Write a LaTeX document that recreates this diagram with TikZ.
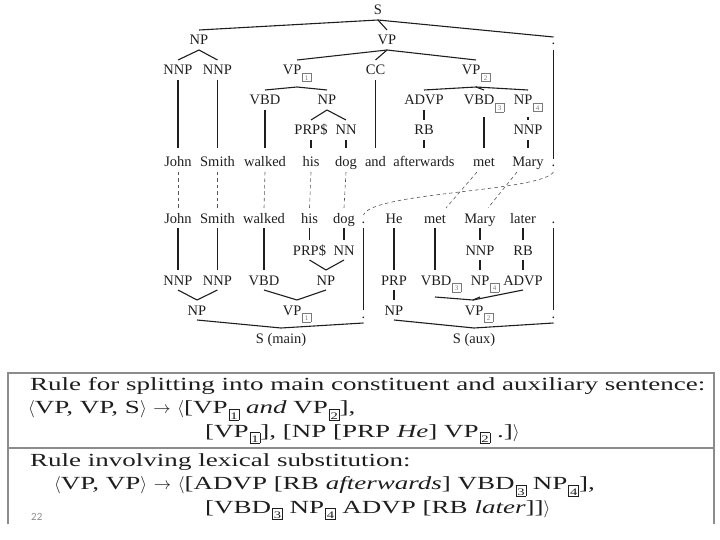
\documentclass[tikz,border=0pt]{standalone}
\usepackage{fontspec}
\setmainfont{Liberation Serif}
\newfontfamily\treefont{Liberation Serif}
\newfontfamily\rulefont[FakeStretch=1.46]{Liberation Serif}
\newfontfamily\numfont{Carlito}
\definecolor{ink}{HTML}{1E1E1E}
\definecolor{boxgray}{HTML}{7A7A7A}
\definecolor{framegray}{HTML}{8C8C8C}
\newcommand\bxn[1]{\kern0.8pt\raisebox{-5.5pt}{\setlength\fboxsep{1pt}\setlength\fboxrule{0.5pt}\fcolorbox{boxgray}{white}{\makebox[6pt]{\rule{0pt}{6pt}\fontsize{7}{7}\selectfont\color{boxgray}#1}}}}
\newcommand\rbx[1]{\kern1pt\raisebox{-5.5pt}{\setlength\fboxsep{0.6pt}\setlength\fboxrule{0.7pt}\fcolorbox{ink}{white}{\makebox[8pt]{\rule{0pt}{9pt}\fontsize{10}{10}\selectfont #1}}}}
\begin{document}
\begin{tikzpicture}[x=1pt,y=-1pt,
  lab/.style={font=\treefont\fontsize{14.5}{15}\selectfont, text=ink, anchor=base,
    inner sep=0pt, outer xsep=0pt, outer ysep=5pt, text height=10pt, text depth=0pt},
  bxd/.style={text depth=7pt},
  wtop/.style={text height=14pt},
  dotn/.style={text height=3pt},
  ln/.style={draw=ink, line width=1.1pt},
  dl/.style={draw=ink!75, line width=0.6pt, dash pattern=on 3.5pt off 3pt},
  rl/.style={font=\rulefont\fontsize{18.5}{20}\selectfont, text=ink, anchor=base west, inner sep=0pt},
  frame/.style={draw=framegray, line width=1.2pt}]
\useasboundingbox (0,0) rectangle (720,540);
% ---------- upper tree ----------
\node[lab] (S0) at (378,15) {S};
\node[lab] (np2) at (199,45) {NP};
\node[lab] (vp2) at (387,45) {VP};
\node[lab,dotn] (dt2) at (553.5,45) {.};
\node[lab] (nnpa3) at (178,75) {NNP};
\node[lab] (nnpb3) at (217.5,75) {NNP};
\node[lab,bxd] (vpa3) at (297,75) {VP\bxn{1}};
\node[lab] (cc3) at (375.5,75) {CC};
\node[lab,bxd] (vpb3) at (476,75) {VP\bxn{2}};
\node[lab] (vbd4) at (265,105) {VBD};
\node[lab] (np4) at (327,105) {NP};
\node[lab] (advp4) at (424,105) {ADVP};
\node[lab,bxd] (vbdc4) at (484,105) {VBD\bxn{3}};
\node[lab,bxd] (npd4) at (528,105) {NP\bxn{4}};
\node[lab] (prp5) at (311,135) {PRP\$};
\node[lab] (nn5) at (346,135) {NN};
\node[lab] (rb5) at (424,135) {RB};
\node[lab] (nnp5) at (528,135) {NNP};
\node[lab,wtop] (w6john) at (178,167) {John};
\node[lab,wtop] (w6smith) at (217.5,167) {Smith};
\node[lab,wtop] (w6walked) at (265,167) {walked};
\node[lab,wtop] (w6his) at (311,167) {his};
\node[lab,wtop] (w6dog) at (346,167) {dog};
\node[lab,wtop] (w6and) at (375.5,167) {and};
\node[lab,wtop] (w6after) at (424,167) {afterwards};
\node[lab,wtop] (w6met) at (484,167) {met};
\node[lab,wtop] (w6mary) at (528,167) {Mary};
\node[lab,dotn] (dt6) at (553.5,167) {.};
% ---------- lower tree ----------
\node[lab] (w7john) at (178,223) {John};
\node[lab] (w7smith) at (217.5,223) {Smith};
\node[lab] (w7walked) at (264,223) {walked};
\node[lab] (w7his) at (309.5,223) {his};
\node[lab] (w7dog) at (344,223) {dog};
\node[lab,dotn] (dt7a) at (363.5,223) {.};
\node[lab] (w7he) at (394,223) {He};
\node[lab] (w7met) at (435,223) {met};
\node[lab] (w7mary) at (480,223) {Mary};
\node[lab] (w7later) at (523,223) {later};
\node[lab,dotn] (dt7b) at (553.5,223) {.};
\node[lab] (prp8) at (309.5,255) {PRP\$};
\node[lab] (nn8) at (344,255) {NN};
\node[lab] (nnp8) at (480,255) {NNP};
\node[lab] (rb8) at (523,255) {RB};
\node[lab] (nnpa9) at (178,285) {NNP};
\node[lab] (nnpb9) at (217.5,285) {NNP};
\node[lab] (vbd9) at (264,285) {VBD};
\node[lab] (np9) at (326,285) {NP};
\node[lab] (prp9) at (394,285) {PRP};
\node[lab,bxd] (vbdc9) at (441,285) {VBD\bxn{3}};
\node[lab,bxd] (npd9) at (485,285) {NP\bxn{4}};
\node[lab] (advp9) at (523,285) {ADVP};
\node[lab] (np10) at (197,315) {NP};
\node[lab,bxd] (vpa10) at (297,315) {VP\bxn{1}};
\node[lab,dotn] (dt10a) at (363.5,318) {.};
\node[lab] (npb10) at (394,315) {NP};
\node[lab,bxd] (vpb10) at (479,315) {VP\bxn{2}};
\node[lab,dotn] (dt10b) at (553.5,318) {.};
\node[lab] (smain) at (281,343) {S (main)};
\node[lab] (saux) at (474,343) {S (aux)};
% ---------- upper connectors ----------
\draw[ln] (np2.north) -- (S0.south) -- (dt2.north);
\draw[ln] (S0.south) -- (vp2.north);
\draw[ln] (nnpa3.north) -- (np2.south) -- (nnpb3.north);
\draw[ln] (vpa3.north) -- (vp2.south) -- (vpb3.north);
\draw[ln] (vp2.south) -- (cc3.north);
\draw[ln] (vbd4.north) -- (vpa3.south) -- (np4.north);
\draw[ln] (advp4.north) -- (vpb3.south) -- (npd4.north);
\draw[ln] (vpb3.south) -- (vbdc4.north);
\draw[ln] (prp5.north) -- (np4.south) -- (nn5.north);
\draw[ln] (advp4.south) -- (rb5.north);
\draw[ln] (npd4.south) -- (nnp5.north);
\draw[ln] (nnpa3.south) -- (w6john.north);
\draw[ln] (nnpb3.south) -- (w6smith.north);
\draw[ln] (vbd4.south) -- (w6walked.north);
\draw[ln] (prp5.south) -- (w6his.north);
\draw[ln] (nn5.south) -- (w6dog.north);
\draw[ln] (cc3.south) -- (w6and.north);
\draw[ln] (rb5.south) -- (w6after.north);
\draw[ln] (vbdc4.south) -- (w6met.north);
\draw[ln] (nnp5.south) -- (w6mary.north);
\draw[ln] (dt2.south) -- (dt6.north);
% ---------- alignment (dashed) ----------
\draw[dl] (w6john.south) -- (w7john.north);
\draw[dl] (w6smith.south) -- (w7smith.north);
\draw[dl] (w6walked.south) -- (w7walked.north);
\draw[dl] (w6his.south) -- (w7his.north);
\draw[dl] (w6dog.south) -- (w7dog.north);
\draw[dl] ([xshift=-7pt]w6met.south) -- ([xshift=11pt]w7met.north);
\draw[dl] ([xshift=-11pt]w6mary.south) -- ([xshift=8pt]w7mary.north);
\draw[dl] (dt6.south) .. controls (540,192) and (372,192) .. (dt7a.north);
% ---------- lower connectors ----------
\draw[ln] (w7john.south) -- (nnpa9.north);
\draw[ln] (w7smith.south) -- (nnpb9.north);
\draw[ln] (w7walked.south) -- (vbd9.north);
\draw[ln] (w7his.south) -- (prp8.north);
\draw[ln] (w7dog.south) -- (nn8.north);
\draw[ln] (dt7a.south) -- (dt10a.north);
\draw[ln] (w7he.south) -- (prp9.north);
\draw[ln] (w7met.south) -- ([xshift=-6pt]vbdc9.north);
\draw[ln] (w7mary.south) -- (nnp8.north);
\draw[ln] (w7later.south) -- (rb8.north);
\draw[ln] (dt7b.south) -- (dt10b.north);
\draw[ln] (prp8.south) -- (np9.north) -- (nn8.south);
\draw[ln] (nnp8.south) -- ([xshift=-5pt]npd9.north);
\draw[ln] (rb8.south) -- (advp9.north);
\draw[ln] (nnpa9.south) -- (np10.north) -- (nnpb9.south);
\draw[ln] (vbd9.south) -- (vpa10.north) -- (np9.south);
\draw[ln] (prp9.south) -- (npb10.north);
\draw[ln] ([xshift=-6pt]vbdc9.south) -- ([xshift=-6pt]vpb10.north) -- (advp9.south);
\draw[ln] ([xshift=-5pt]npd9.south) -- ([xshift=-6pt]vpb10.north);
\draw[ln] (np10.south) -- (smain.north) -- (dt10a.south);
\draw[ln] (npb10.south) -- (saux.north) -- (dt10b.south);
% ---------- rule box ----------
\coordinate (tl) at (8,373);
\coordinate (tr) at (714,373);
\coordinate (bl) at (8,524);
\coordinate (br) at (714,524);
\coordinate (ml) at (8,448);
\coordinate (mr) at (714,448);
\draw[frame] (bl) -- (tl) -- (tr) -- (br);
\draw[frame, line width=1.8pt] (ml) -- (mr);
\node[rl] (r1) at (30,390) {Rule for splitting into main constituent and auxiliary sentence:};
\node[rl] (r2) at (28,413.5) {$\langle$VP, VP, S$\rangle$ $\rightarrow$ $\langle$[VP\rbx{1} \textit{and} VP\rbx{2}],};
\node[rl] (r3) at (205,437) {[VP\rbx{1}], [NP [PRP \textit{He}] VP\rbx{2} .]$\rangle$};
\node[rl] (r4) at (30,466) {Rule involving lexical substitution:};
\node[rl] (r5) at (54,489.5) {$\langle$VP, VP$\rangle$ $\rightarrow$ $\langle$[ADVP [RB \textit{afterwards}] VBD\rbx{3} NP\rbx{4}],};
\node[rl] (r6) at (205,513) {[VBD\rbx{3} NP\rbx{4} ADVP [RB \textit{later}]]$\rangle$};
\node[font=\numfont\fontsize{11}{11}\selectfont, text=black!45, anchor=base west, inner sep=0pt] (pg) at (31,520) {22};
\end{tikzpicture}
\end{document}
